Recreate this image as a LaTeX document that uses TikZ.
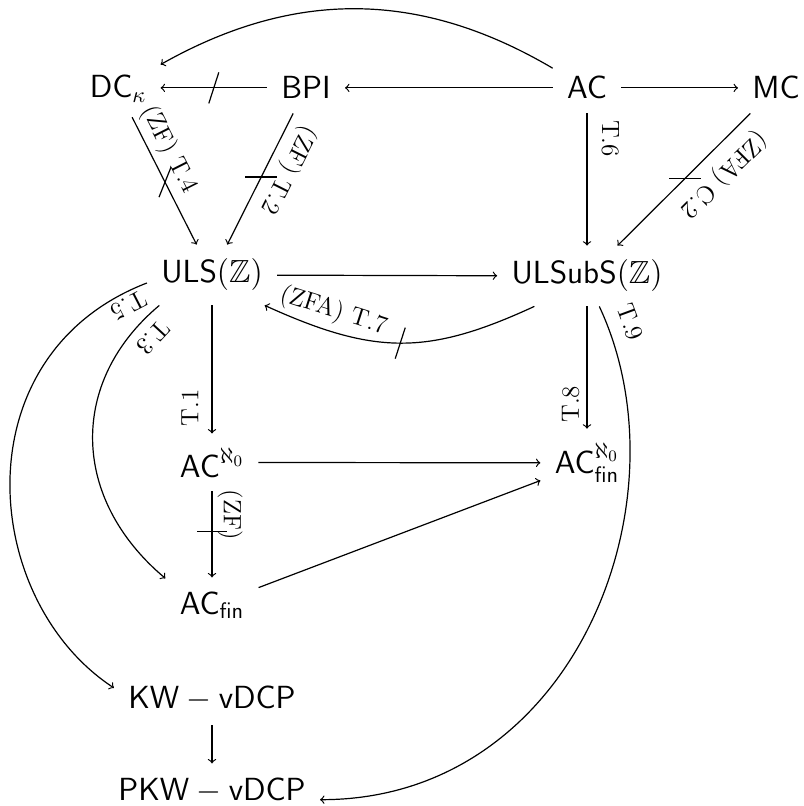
\RequirePackage{fix-cm}
\documentclass[tikz,border=0pt]{standalone}
\usepackage{amssymb}
\begin{document}
\begin{tikzpicture}[x=0.5pt,y=-0.5pt,
  obj/.style={anchor=base, inner sep=7pt, font=\fontsize{16}{19}\selectfont},
  lab/.style={font=\fontsize{12.5}{14}\selectfont, inner sep=3pt},
  arr/.style={->, line width=0.6pt},
  bar/.style={line width=0.6pt}]
\useasboundingbox (0,0) rectangle (803,806);
% nodes
\node[obj] (DC) at (118,98) {$\mathsf{DC}_\kappa$};
\node[obj] (BPI) at (306,99) {$\mathsf{BPI}$};
\node[obj] (AC) at (587,99) {$\mathsf{AC}$};
\node[obj] (MC) at (776,99) {$\mathsf{MC}$};
\node[obj] (ULS) at (212,283) {$\mathsf{ULS}(\mathbb{Z})$};
\node[obj] (ULSubS) at (587,284) {$\mathsf{ULSubS}(\mathbb{Z})$};
\node[obj] (ACA) at (212,477) {$\mathsf{AC}^{\aleph_0}$};
\node[obj] (ACfinA) at (587,473) {$\mathsf{AC}^{\aleph_0}_{\mathsf{fin}}$};
\node[obj] (ACfin) at (212,614) {$\mathsf{AC}_{\mathsf{fin}}$};
\node[obj] (KW) at (212,708) {$\mathsf{KW}-\mathsf{vDCP}$};
\node[obj] (PKW) at (212,800) {$\mathsf{PKW}-\mathsf{vDCP}$};
% top row
\draw[arr] (AC) to[bend right=30] (DC);
\draw[arr] (BPI.west) -- coordinate[pos=0.5] (x1) (BPI.west -| DC.east);
\draw[bar] (x1) ++(5,-15.5) -- ++(-10,31);
\draw[arr] (AC) -- (BPI);
\draw[arr] (AC) -- (MC);
% diagonals to second row
\draw[arr] (DC) -- node[lab,inner sep=2.5pt,pos=0.32,sloped,above] {(ZF) T.4} coordinate[pos=0.51] (x2) (ULS);
\draw[bar] (x2) ++(6,-15) -- ++(-12,30);
\draw[arr] (BPI) -- node[lab,inner sep=4pt,pos=0.36,sloped,allow upside down,above] {(ZF) T.2} coordinate[pos=0.485] (x3) (ULS);
\draw[bar] (x3) ++(-16,0) -- ++(32,0);
\draw[arr] (AC) -- node[lab,inner sep=7pt,pos=0.19,rotate=-90,anchor=south] {T.6} (ULSubS);
\draw[arr] (MC) -- node[lab,inner sep=5.5pt,pos=0.33,sloped,allow upside down,above] {(ZFA) C.2} coordinate[pos=0.49] (x4) (ULSubS);
\draw[bar] (x4) ++(-16,0) -- ++(32,0);
% second row
\draw[arr] (ULS) -- (ULSubS);
\draw[arr] (ULSubS.210) .. controls (427,356) and (374,355) .. node[lab,inner sep=3.5pt,pos=0.79,sloped,above] {(ZFA) T.7} coordinate[pos=0.5] (x5) (ULS.-30);
\draw[bar] (x5) ++(5,-15.5) -- ++(-10,31);
\draw[arr] (ULS) -- node[lab,inner sep=6.5pt,pos=0.8,rotate=90,anchor=south] {T.1} (ACA);
\draw[arr] (ULSubS) -- node[lab,inner sep=3.5pt,pos=0.8,rotate=90,anchor=south] {T.8} (ACfinA);
% left curves
\draw[arr] (ULS.187) .. controls (-40,355) and (-20,600) .. node[lab,inner sep=2pt,pos=0.045,sloped,allow upside down,above] {T.5} (KW.174);
\draw[arr] (ULS.210) .. controls (68,382) and (71,499) .. node[lab,inner sep=5pt,pos=0.08,sloped,allow upside down,above] {T.3} (ACfin.150);
% right curve
\draw[arr] (ULSubS.-68) .. controls (690,500) and (575,800) .. node[lab,inner sep=6.5pt,pos=0.04,sloped,above] {T.9} (PKW.-5);
% lower part
\draw[arr] (ACA) -- (ACfinA);
\draw[arr] (ACA) -- node[lab,inner sep=2.5pt,pos=0.27,rotate=-90,anchor=south] {(ZF)} coordinate[pos=0.47] (x6) (ACfin);
\draw[bar] (x6) ++(-15,0) -- ++(30,0);
\draw[arr] (ACfin) -- (ACfinA);
\draw[arr] (KW) -- (PKW);
\end{tikzpicture}
\end{document}
